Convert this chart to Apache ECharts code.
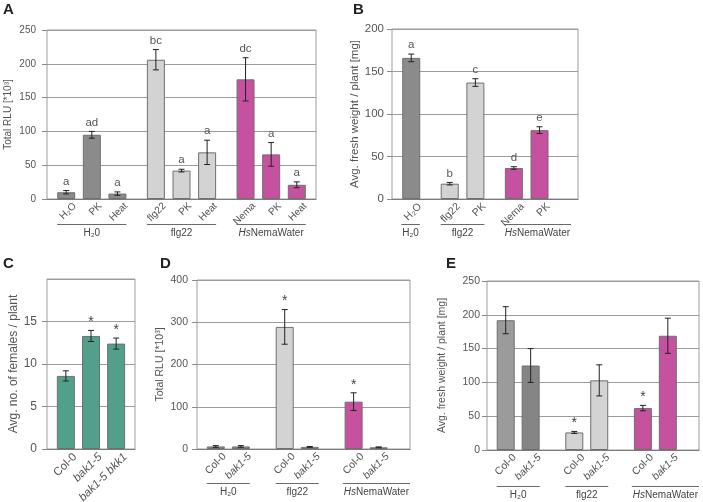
<!DOCTYPE html>
<html>
<head>
<meta charset="utf-8">
<title>Elicitor responses</title>
<script src="https://cdn.jsdelivr.net/npm/echarts@6/dist/echarts.min.js"></script>
<style>
  html, body { margin: 0; padding: 0; background: #fff; }
  #main { width: 703px; height: 502px; }
</style>
</head>
<body>
<div id="main"></div>
<script>
// ---- data ----
// A: total RLU
const aLabels = ['H₂O', 'PK', 'Heat', 'flg22', 'PK', 'Heat', 'Nema', 'PK', 'Heat'];
const aValues = [10, 95, 8, 206, 42, 69, 177, 66, 21];
const aErrors = [2.5, 5, 2.5, 15, 2, 18, 32, 17.5, 4.3];
const aMarks = ['a', 'ad', 'a', 'bc', 'a', 'a', 'dc', 'a', 'a'];
const aGroups = ['H₂0', 'flg22', 'HsNemaWater'];
const aGroupSizes = [3, 3, 3];

// B: fresh weight
const bLabels = ['H₂O', 'flg22', 'PK', 'Nema', 'PK'];
const bValues = [166, 18, 137, 36.5, 81];
const bErrors = [4.5, 1.5, 4.5, 1.5, 4];
const bMarks = ['a', 'b', 'c', 'd', 'e'];
const bGroups = ['H₂0', 'flg22', 'HsNemaWater'];
const bGroupSizes = [1, 2, 2];

// C: females per plant
const cLabels = ['Col-0', 'bak1-5', 'bak1-5 bkk1'];
const cValues = [8.6, 13.3, 12.4];
const cErrors = [0.6, 0.65, 0.65];
const cMarks = ['', '*', '*'];

// D: total RLU, bak1-5
const dLabels = ['Col-0', 'bak1-5', 'Col-0', 'bak1-5', 'Col-0', 'bak1-5'];
const dValues = [6, 6, 289, 5, 112, 4];
const dErrors = [2, 2, 41, 1, 21, 1];
const dMarks = ['', '', '*', '', '*', ''];
const dGroups = ['H₂0', 'flg22', 'HsNemaWater'];
const dGroupSizes = [2, 2, 2];

// E: fresh weight, bak1-5
const eLabels = ['Col-0', 'bak1-5', 'Col-0', 'bak1-5', 'Col-0', 'bak1-5'];
const eValues = [192, 125, 26, 103, 62, 169];
const eErrors = [20, 25, 1.5, 23, 4, 26];
const eMarks = ['', '', '*', '', '*', ''];
const eGroups = ['H₂0', 'flg22', 'HsNemaWater'];
const eGroupSizes = [2, 2, 2];

const italicNames = ['bak1-5', 'bak1-5 bkk1'];

// ---- styles ----
const DARK = '#8b8b8b', DARK2 = '#858585', MID = '#9b9b9b', LIGHT = '#d3d3d3', MAG = '#c6529f', TEAL = '#52a08b';
const FONT = '"Liberation Sans", Arial, sans-serif';
const TXT = '#555';
const FS = 10;

const panels = [
  { name: 'A', labels: aLabels, values: aValues, errors: aErrors, marks: aMarks, groups: aGroups, sizes: aGroupSizes,
    colors: [DARK, DARK, DARK, LIGHT, LIGHT, LIGHT, MAG, MAG, MAG],
    grid: { left: 47, top: 30, width: 269, height: 169 }, layout: [3, 4, 6, 3],
    yMax: 250, yStep: 50, yName: 'Total RLU [*10³]', nameGap: 34, yMargin: 11, yFs: 10, xFs: 10,
    title: [3, 2], lineOff: 24.5 },
  { name: 'B', labels: bLabels, values: bValues, errors: bErrors, marks: bMarks, groups: bGroups, sizes: bGroupSizes,
    colors: [DARK, LIGHT, LIGHT, MAG, MAG],
    grid: { left: 392, top: 29, width: 186, height: 170 }, layout: [3, 4, 6, 6],
    yMax: 200, yStep: 50, yName: 'Avg. fresh weight / plant [mg]', nameGap: 28, yMargin: 8, yFs: 11.5, xFs: 10.5,
    title: [353, 2], lineOff: 24.5 },
  { name: 'C', labels: cLabels, values: cValues, errors: cErrors, marks: cMarks, groups: null, sizes: [3],
    colors: [TEAL, TEAL, TEAL],
    grid: { left: 47, top: 279, width: 88, height: 170 }, layout: [3, 4, 0, 3],
    yMax: 20, yStep: 5, yName: 'Avg. no. of females / plant', nameGap: 24, yMargin: 10, yFs: 12, xFs: 11.5, hideMax: true,
    title: [3, 256] },
  { name: 'D', labels: dLabels, values: dValues, errors: dErrors, marks: dMarks, groups: dGroups, sizes: dGroupSizes,
    colors: [DARK, DARK, LIGHT, LIGHT, MAG, MAG],
    grid: { left: 197, top: 280, width: 213, height: 169 }, layout: [3, 4, 7, 5],
    yMax: 400, yStep: 100, yName: 'Total RLU [*10³]', nameGap: 31, yMargin: 9, yFs: 10.5, xFs: 10.5,
    title: [160, 256], lineOff: 34 },
  { name: 'E', labels: eLabels, values: eValues, errors: eErrors, marks: eMarks, groups: eGroups, sizes: eGroupSizes,
    colors: [MID, DARK2, LIGHT, LIGHT, MAG, MAG],
    grid: { left: 487, top: 281, width: 212, height: 169 }, layout: [3, 4, 7, 5],
    yMax: 250, yStep: 50, yName: 'Avg. fresh weight / plant [mg]', nameGap: 39, yMargin: 7, yFs: 10.5, xFs: 10.5,
    title: [446, 256], lineOff: 36 }
];

// slots on a fine category axis so the group gaps come out right
function buildSlots (sizes, lead, step, gap, tail) {
  const slots = [];
  let pos = lead;
  sizes.forEach((size, g) => {
    for (let i = 0; i < size; i++) {
      slots.push(pos);
      if (i < size - 1) pos += step;
    }
    if (g < sizes.length - 1) pos += gap;
  });
  return { slots, count: pos + tail + 1 };
}

function labelFmt (txt) {
  return italicNames.indexOf(txt) >= 0 ? '{i|' + txt + '}' : txt;
}

function errorSeries (k, p) {
  return {
    type: 'custom',
    xAxisIndex: k,
    yAxisIndex: k,
    z: 5,
    silent: true,
    data: p.slots.map((s, i) => [s, p.values[i], p.errors[i], i]),
    renderItem (params, api) {
      const x = api.value(0), v = api.value(1), e = api.value(2), i = api.value(3);
      const top = api.coord([x, v + e]);
      const bot = api.coord([x, Math.max(v - e, 0)]);
      const c = 3;
      const st = { stroke: '#222', lineWidth: 1 };
      const children = [
        { type: 'line', shape: { x1: top[0], y1: top[1], x2: bot[0], y2: bot[1] }, style: st },
        { type: 'line', shape: { x1: top[0] - c, y1: top[1], x2: top[0] + c, y2: top[1] }, style: st },
        { type: 'line', shape: { x1: bot[0] - c, y1: bot[1], x2: bot[0] + c, y2: bot[1] }, style: st }
      ];
      const m = p.marks[i];
      if (m) {
        const star = m === '*';
        children.push({
          type: 'text',
          x: top[0],
          y: top[1] - (star ? 1 : 3),
          style: {
            text: m, align: 'center', verticalAlign: 'bottom',
            fill: star ? '#444' : TXT, fontSize: star ? 14 : 11.5, fontFamily: FONT
          }
        });
      }
      return { type: 'group', children };
    }
  };
}

const option = {
  animation: false,
  backgroundColor: '#fff',
  title: [], grid: [], xAxis: [], yAxis: [], series: []
};

panels.forEach((p, k) => {
  const lay = buildSlots(p.sizes, p.layout[0], p.layout[1], p.layout[2], p.layout[3]);
  p.slots = lay.slots;
  const cats = [];
  const names = [];
  for (let s = 0; s < lay.count; s++) { cats.push(String(s)); names.push(''); }
  p.slots.forEach((s, i) => { names[s] = p.labels[i]; });

  option.title.push({
    text: p.name, left: p.title[0], top: p.title[1], padding: 0,
    textStyle: { fontSize: 15, fontWeight: 'bold', color: '#222', fontFamily: FONT }
  });
  option.grid.push(Object.assign({
    show: true, borderColor: '#9c9c9c', borderWidth: 1, backgroundColor: 'transparent',
    containLabel: false, outerBoundsMode: 'none'
  }, p.grid));
  option.xAxis.push({
    type: 'category', gridIndex: k, data: cats, boundaryGap: false,
    axisLine: { show: true, lineStyle: { color: '#7a7a7a', width: 1 } },
    axisTick: { show: false },
    splitLine: { show: false },
    axisLabel: {
      interval: 0, rotate: 45, margin: -3, align: 'right', verticalAlign: 'top', padding: [7, 0, 0, 0],
      fontSize: p.xFs, color: TXT, fontFamily: FONT,
      formatter: (v, idx) => labelFmt(names[idx]),
      rich: { i: { fontStyle: 'italic', fontSize: p.xFs, color: TXT, fontFamily: FONT } }
    }
  });
  option.yAxis.push({
    type: 'value', gridIndex: k, min: 0, max: p.yMax, interval: p.yStep,
    name: p.yName, nameLocation: 'middle', nameGap: p.nameGap, nameRotate: 90,
    nameTextStyle: { fontSize: p.yFs, color: TXT, fontFamily: FONT },
    axisLine: { show: false },
    axisTick: { show: true, length: 5, lineStyle: { color: '#8a8a8a' } },
    splitLine: { show: true, lineStyle: { color: '#9c9c9c', width: 1 } },
    axisLabel: { fontSize: p.yFs, color: TXT, fontFamily: FONT, margin: p.yMargin, showMaxLabel: !p.hideMax }
  });
  option.series.push({
    type: 'bar', xAxisIndex: k, yAxisIndex: k, barWidth: 18, silent: true,
    data: p.slots.map((s, i) => ({
      value: [s, p.values[i]],
      itemStyle: { color: p.colors[i], borderColor: '#6f6f6f', borderWidth: 1 }
    }))
  });
  option.series.push(errorSeries(k, p));
});

const chart = echarts.init(document.getElementById('main'));
chart.setOption(option);

// group labels below the rotated tick labels
const ctx = document.createElement('canvas').getContext('2d');
function groupTextWidth (txt) {
  if (txt.indexOf('Hs') === 0) {
    ctx.font = 'italic ' + FS + 'px ' + FONT;
    const w1 = ctx.measureText('Hs').width;
    ctx.font = FS + 'px ' + FONT;
    return w1 + ctx.measureText(txt.slice(2)).width;
  }
  ctx.font = FS + 'px ' + FONT;
  return ctx.measureText(txt).width;
}

const graphic = [];
panels.forEach((p, k) => {
  if (!p.groups) return;
  const baseY = chart.convertToPixel({ yAxisIndex: k }, 0);
  const rightEdge = p.grid.left + p.grid.width;
  const lineY = Math.round(baseY + p.lineOff) + 0.5;
  let start = 0;
  p.groups.forEach((g, gi) => {
    const first = p.slots[start];
    const last = p.slots[start + p.sizes[gi] - 1];
    start += p.sizes[gi];
    const x0 = chart.convertToPixel({ xAxisIndex: k }, first) - 9;
    const x1 = chart.convertToPixel({ xAxisIndex: k }, last) + 9;
    const tw = groupTextWidth(g);
    let l = x0, r = x1;
    if (tw + 2 > x1 - x0) { l = x0 - 1; r = l + tw + 2; }
    if (r > rightEdge) { l -= r - rightEdge; r = rightEdge; }
    const cx = (l + r) / 2;
    graphic.push({
      type: 'line', silent: true,
      shape: { x1: l, y1: lineY, x2: r, y2: lineY },
      style: { stroke: '#6a6a6a', lineWidth: 1 }
    });
    const isHs = g.indexOf('Hs') === 0;
    graphic.push({
      type: 'text', silent: true, x: cx, y: lineY + 9,
      style: {
        text: isHs ? '{i|Hs}NemaWater' : g,
        align: 'center', verticalAlign: 'middle',
        fill: '#444', fontSize: FS, fontFamily: FONT,
        rich: { i: { fontStyle: 'italic', fontSize: FS, fill: '#444', fontFamily: FONT } }
      }
    });
  });
});
chart.setOption({ graphic });
</script>
</body>
</html>
